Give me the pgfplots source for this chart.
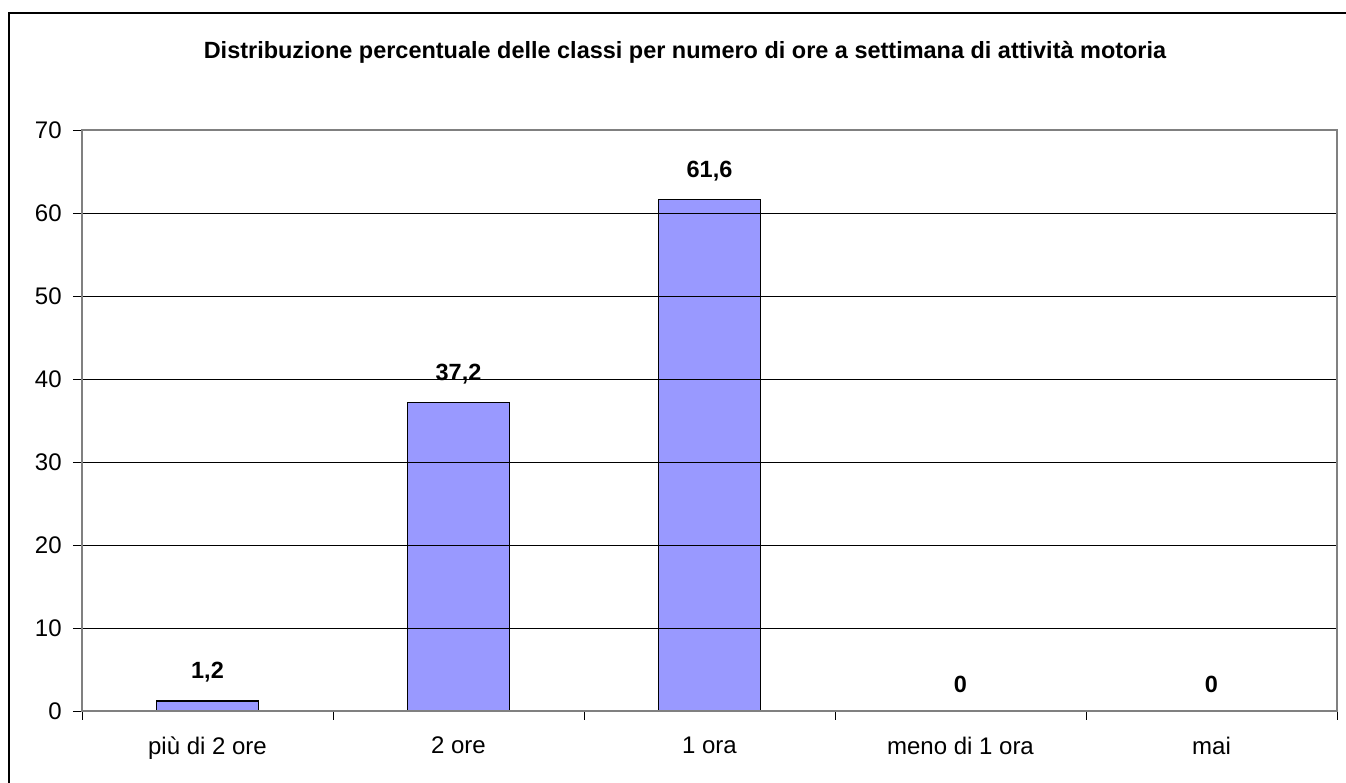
\documentclass[border=0pt]{standalone}
\usepackage{pgfplots}
\pgfplotsset{compat=1.18}
\usepackage{fontspec}
\setmainfont{Liberation Sans}
\definecolor{barfill}{HTML}{9999FF}

\begin{document}
\begin{tikzpicture}[x=0.75pt,y=0.75pt]
\useasboundingbox (0,0) rectangle (1346,782);
% outer chart frame (only left and top fall inside the picture)
\draw[line width=1.1pt] (9,-20) -- (9,769) -- (1400,769);
\node[font=\bfseries\fontsize{17.6}{20}\selectfont] at (685,730)
  {Distribuzione percentuale delle classi per numero di ore a settimana di attività motoria};
\begin{axis}[
  at={(61.5pt,53.25pt)}, anchor=south west,
  scale only axis, width=941.25pt, height=435.75pt,
  ybar, bar width=76.5pt,
  xmin=-0.5, xmax=4.5, ymin=0, ymax=70,
  xtick={0,1,2,3,4},
  xticklabels={più di 2 ore, 2 ore, 1 ora, meno di 1 ora, mai},
  minor xtick={-0.5,0.5,1.5,2.5,3.5,4.5},
  ytick={0,10,...,70},
  tick align=outside,
  major tick length=6.75pt, minor tick length=6.75pt,
  x tick style={draw=none},
  minor x tick style={draw=black, line width=0.6pt},
  y tick style={black, line width=0.6pt},
  xtick pos=bottom, ytick pos=left,
  ymajorgrids, grid style={black, line width=0.6pt},
  axis line style={draw=gray, line width=1pt},
  axis on top,
  tick label style={font=\fontsize{18}{21}\selectfont},
  xticklabel style={yshift=-9pt},
  yticklabel style={xshift=-5pt},
  /pgf/number format/assume math mode=true,
  nodes near coords,
  nodes near coords style={font=\bfseries\fontsize{17.6}{20}\selectfont,
    /pgf/number format/use comma, /pgf/number format/fixed,
    /pgf/number format/precision=1, yshift=10pt},
]
\addplot[fill=barfill, draw=black, line width=1pt] coordinates
  {(0,1.2) (1,37.2) (2,61.6) (3,0) (4,0)};
\draw[black, line width=1pt] (rel axis cs:0,0) -- (rel axis cs:0,1);
\draw[black, line width=1pt] (rel axis cs:0,0) -- (rel axis cs:1,0);
\end{axis}
\end{tikzpicture}
\end{document}
